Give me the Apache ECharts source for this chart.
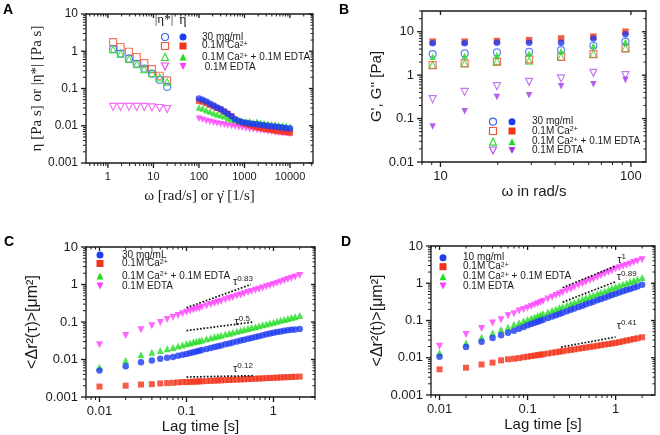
<!DOCTYPE html>
<html>
<head>
<meta charset="utf-8">
<script src="https://cdn.jsdelivr.net/npm/echarts@6/dist/echarts.min.js"></script>
<style>
  html, body { margin: 0; background: #fff; }
  #fig { width: 660px; height: 435px; }
</style>
</head>
<body>
<div id="fig"></div>
<script>
// ---------- A: viscosity ----------
// |eta*| (open symbols) from oscillatory sweep
const aOmega = [1.3, 1.9, 2.9, 4.3, 6.3, 9.3, 13.7, 20];
const aStar30 = [1.15, 0.87, 0.63, 0.46, 0.34, 0.25, 0.17, 0.11];
const aStarCa = [1.75, 1.3, 0.97, 0.7, 0.48, 0.33, 0.22, 0.165];
const aStarCaEdta = [1.12, 0.85, 0.62, 0.45, 0.33, 0.26, 0.2, 0.15];
const aStarEdta = [0.032, 0.032, 0.032, 0.032, 0.032, 0.031, 0.03, 0.028];
// eta (filled symbols) from steady shear
const aRate = [100, 120, 145, 175, 210, 250, 300, 360, 430, 520, 620, 750, 900, 1080, 1300, 1560, 1870, 2250, 2700, 3250, 3900, 4700, 5600, 6800, 8200, 10000];
const aEta30 = [0.054, 0.05, 0.045, 0.039, 0.035, 0.031, 0.028, 0.024, 0.021, 0.018, 0.015, 0.0135, 0.0125, 0.012, 0.0115, 0.0112, 0.011, 0.0106, 0.0103, 0.01, 0.0097, 0.0095, 0.0092, 0.009, 0.0087, 0.0084];
const aEtaCa = [0.046, 0.044, 0.04, 0.036, 0.033, 0.03, 0.027, 0.024, 0.021, 0.018, 0.0145, 0.013, 0.012, 0.011, 0.0103, 0.0097, 0.0091, 0.0087, 0.0083, 0.008, 0.0077, 0.0074, 0.0071, 0.0069, 0.0067, 0.0065];
const aEtaCaEdta = [0.031, 0.029, 0.026, 0.024, 0.022, 0.02, 0.019, 0.018, 0.016, 0.015, 0.0145, 0.014, 0.0135, 0.013, 0.0135, 0.0125, 0.013, 0.012, 0.0118, 0.0115, 0.011, 0.0108, 0.0105, 0.0102, 0.0099, 0.0096];
const aEtaEdta = [0.0155, 0.0145, 0.0135, 0.0128, 0.012, 0.0115, 0.011, 0.0106, 0.0102, 0.0098, 0.0095, 0.0091, 0.0088, 0.0085, 0.0082, 0.008, 0.0077, 0.0075, 0.0072, 0.007, 0.0068, 0.0066, 0.0065, 0.0063, 0.0062, 0.006];

// ---------- B: G', G'' ----------
const bOmega = [9.1, 13.4, 19.8, 29.2, 43, 63.5, 93.6];
const bOpen30 = [3.05, 3.17, 3.34, 3.45, 3.78, 4.75, 5.9];
const bFill30 = [5.4, 5.4, 5.6, 5.6, 5.6, 7.0, 8.8];
const bOpenCa = [1.7, 1.86, 2.03, 2.3, 2.64, 3.05, 4.13];
const bFillCa = [5.9, 5.9, 6.1, 6.4, 7.0, 7.7, 10.0];
const bOpenCaEdta = [1.72, 1.88, 2.12, 2.15, 2.65, 3.1, 4.2];
const bFillCaEdta = [2.64, 2.75, 2.9, 3.17, 3.58, 4.75, 5.9];
const bOpenEdta = [0.279, 0.41, 0.557, 0.7, 0.84, 1.13, 1.0];
const bFillEdta = [0.066, 0.148, 0.315, 0.345, 0.557, 0.62, 0.77];

// ---------- C: MSD, 30 mg/mL ----------
const cLag = [0.01, 0.02, 0.03, 0.04, 0.05, 0.06, 0.07, 0.08, 0.09, 0.1, 0.11, 0.12, 0.13, 0.14, 0.15, 0.17, 0.19, 0.21, 0.23, 0.25, 0.28, 0.31, 0.34, 0.38, 0.42, 0.46, 0.51, 0.56, 0.62, 0.68, 0.75, 0.83, 0.91, 1.0, 1.1, 1.21, 1.33, 1.46, 1.61, 1.77, 2.0];
const cMsd30 = [0.0051, 0.0066, 0.0085, 0.0094, 0.0104, 0.0112, 0.0116, 0.0125, 0.0133, 0.0141, 0.0149, 0.0156, 0.0164, 0.0171, 0.0178, 0.0191, 0.0203, 0.0215, 0.0227, 0.0238, 0.0254, 0.0269, 0.0282, 0.0302, 0.0319, 0.0337, 0.0357, 0.0376, 0.0399, 0.042, 0.0445, 0.047, 0.0497, 0.052, 0.054, 0.056, 0.058, 0.06, 0.062, 0.063, 0.065];
const cMsdCa = [0.0019, 0.002, 0.00215, 0.0022, 0.0023, 0.00235, 0.0024, 0.00245, 0.0025, 0.0025, 0.00253, 0.00256, 0.00258, 0.0026, 0.00263, 0.00266, 0.0027, 0.00273, 0.00276, 0.00278, 0.00282, 0.00285, 0.00288, 0.00292, 0.00295, 0.00298, 0.00301, 0.00304, 0.00308, 0.00311, 0.00315, 0.00318, 0.00322, 0.00325, 0.00329, 0.00332, 0.00336, 0.00339, 0.00343, 0.00346, 0.0035];
const cMsdCaEdta = [0.0062, 0.0094, 0.0134, 0.0156, 0.0174, 0.0193, 0.021, 0.023, 0.0245, 0.0262, 0.0277, 0.0291, 0.0305, 0.0318, 0.0331, 0.0356, 0.038, 0.0402, 0.0424, 0.0445, 0.0475, 0.0504, 0.0531, 0.0567, 0.06, 0.0633, 0.0672, 0.0709, 0.0752, 0.0794, 0.0839, 0.089, 0.0939, 0.099, 0.1046, 0.1108, 0.1172, 0.1238, 0.1312, 0.1386, 0.149];
const cMsdEdta = [0.0246, 0.0436, 0.062, 0.08, 0.097, 0.117, 0.134, 0.15, 0.165, 0.183, 0.196, 0.209, 0.222, 0.234, 0.247, 0.27, 0.294, 0.316, 0.338, 0.36, 0.391, 0.421, 0.451, 0.49, 0.527, 0.564, 0.608, 0.651, 0.702, 0.752, 0.808, 0.871, 0.932, 1.0, 1.079, 1.165, 1.257, 1.353, 1.464, 1.579, 1.74];
// power-law guides
const cGuideX = [0.1, 0.55];
const cGuide083 = [0.24, 1.0];
const cGuideX05 = [0.1, 0.57];
const cGuide05 = [0.059, 0.099];
const cGuideX012 = [0.1, 0.58];
const cGuide012 = [0.0034, 0.0037];

// ---------- D: MSD, 10 mg/ml ----------
const dLag = [0.01, 0.02, 0.03, 0.04, 0.05, 0.06, 0.07, 0.08, 0.09, 0.1, 0.11, 0.12, 0.13, 0.14, 0.15, 0.17, 0.19, 0.21, 0.23, 0.25, 0.28, 0.31, 0.34, 0.38, 0.42, 0.46, 0.51, 0.56, 0.62, 0.68, 0.75, 0.83, 0.91, 1.0, 1.1, 1.21, 1.33, 1.46, 1.61, 1.77, 2.0];
const dMsd10 = [0.0107, 0.0193, 0.0267, 0.034, 0.04, 0.047, 0.053, 0.06, 0.067, 0.074, 0.0802, 0.0864, 0.0925, 0.0985, 0.1044, 0.116, 0.128, 0.139, 0.15, 0.161, 0.178, 0.194, 0.209, 0.23, 0.25, 0.271, 0.296, 0.32, 0.349, 0.378, 0.41, 0.447, 0.484, 0.524, 0.564, 0.609, 0.656, 0.706, 0.763, 0.822, 0.906];
const dMsdCa = [0.0049, 0.0054, 0.0066, 0.0074, 0.0085, 0.0091, 0.0094, 0.0098, 0.0103, 0.0107, 0.0111, 0.0114, 0.0118, 0.0121, 0.0124, 0.013, 0.0136, 0.0141, 0.0146, 0.015, 0.0157, 0.0163, 0.0168, 0.0175, 0.0182, 0.0188, 0.0196, 0.0202, 0.021, 0.0218, 0.0226, 0.0234, 0.0242, 0.0251, 0.0263, 0.0276, 0.029, 0.0303, 0.0319, 0.0334, 0.0355];
const dMsdCaEdta = [0.0137, 0.025, 0.0355, 0.0464, 0.057, 0.0657, 0.0775, 0.087, 0.097, 0.106, 0.115, 0.124, 0.134, 0.142, 0.151, 0.169, 0.187, 0.204, 0.221, 0.237, 0.262, 0.287, 0.311, 0.343, 0.375, 0.406, 0.445, 0.482, 0.528, 0.573, 0.624, 0.682, 0.74, 0.804, 0.868, 0.94, 1.016, 1.096, 1.188, 1.284, 1.419];
const dMsdEdta = [0.0204, 0.042, 0.0606, 0.086, 0.105, 0.134, 0.152, 0.18, 0.198, 0.215, 0.237, 0.26, 0.283, 0.306, 0.329, 0.375, 0.422, 0.468, 0.516, 0.563, 0.634, 0.705, 0.777, 0.874, 0.97, 1.068, 1.19, 1.31, 1.46, 1.61, 1.78, 1.98, 2.18, 2.41, 2.6, 2.82, 3.05, 3.3, 3.58, 3.88, 4.3];
const dGuideX = [0.25, 1.0];
const dGuide1 = [0.76, 2.9];
const dGuide089 = [0.31, 1.1];
const dGuideX041 = [0.24, 1.0];
const dGuide041 = [0.0193, 0.036];

// ---------- styling ----------
const SANS = '"Liberation Sans", Arial, sans-serif';
const SERIF = '"Liberation Serif", "Times New Roman", serif';
const INK = '#1a1a1a';
const BLUE = '#1e3cf2', RED = '#f2331a', GREEN = '#22dc22', MAGENTA = '#ff3dff', PURPLE = '#a23be6';

const ranges = [
  { x: [0.33, 32000], y: [0.001, 10] },
  { x: [8, 120], y: [0.01, 30] },
  { x: [0.007, 3], y: [0.001, 10] },
  { x: [0.008, 2.8], y: [0.001, 10] }
];

function fmt(v) { return String(parseFloat(Number(v).toPrecision(2))); }

function xAx(p, fs, name, nameFont, nameSize, gap) {
  return {
    type: 'log', logBase: 10, gridIndex: p, min: ranges[p].x[0], max: ranges[p].x[1],
    axisLine: { show: false }, axisTick: { show: false }, splitLine: { show: false },
    axisLabel: { color: INK, fontFamily: SANS, fontSize: fs, margin: 8, formatter: fmt,
      showMinLabel: false, showMaxLabel: false },
    name: name, nameLocation: 'middle', nameGap: gap,
    nameTextStyle: { color: INK, fontFamily: nameFont, fontSize: nameSize }
  };
}
function yAx(p, fs, name, nameFont, nameSize, gap, showMax) {
  return {
    type: 'log', logBase: 10, gridIndex: p, min: ranges[p].y[0], max: ranges[p].y[1],
    axisLine: { show: false }, axisTick: { show: false }, splitLine: { show: false },
    axisLabel: { color: INK, fontFamily: SANS, fontSize: fs, margin: 8, formatter: fmt,
      showMinLabel: true, showMaxLabel: showMax },
    name: name, nameLocation: 'middle', nameGap: gap,
    nameTextStyle: { color: INK, fontFamily: nameFont, fontSize: nameSize }
  };
}

// log tick values (1..9 x 10^n) inside a range
function logTicks(lo, hi) {
  const out = [];
  for (let e = -4; e <= 5; e++) {
    for (let k = 1; k <= 9; k++) {
      const v = parseFloat((k * Math.pow(10, e)).toPrecision(3));
      if (v >= lo * 0.999 && v <= hi * 1.001) out.push({ v: v, major: k === 1 });
    }
  }
  return out;
}
// tick marks as thin rect symbols sitting on the frame:
// outward on bottom/left, inward on top/right
function tickSeries(p, topMinor) {
  const xr = ranges[p].x, yr = ranges[p].y, data = [];
  logTicks(xr[0], xr[1]).forEach(t => {
    const L = t.major ? 5 : 3, Li = t.major ? 4 : 2.5, w = t.major ? 1.3 : 1;
    data.push({ value: [t.v, yr[0]], symbolSize: [w, L], symbolOffset: [0, L / 2] });
    if (t.major || topMinor) data.push({ value: [t.v, yr[1]], symbolSize: [w, Li], symbolOffset: [0, Li / 2] });
  });
  logTicks(yr[0], yr[1]).forEach(t => {
    const L = t.major ? 5 : 3, Li = t.major ? 4 : 2.5, w = t.major ? 1.3 : 1;
    data.push({ value: [xr[0], t.v], symbolSize: [L, w], symbolOffset: [-L / 2, 0] });
    data.push({ value: [xr[1], t.v], symbolSize: [Li, w], symbolOffset: [-Li / 2, 0] });
  });
  return {
    type: 'scatter', xAxisIndex: p, yAxisIndex: p, silent: true, clip: false, z: 4,
    symbol: 'rect', itemStyle: { color: INK, opacity: 1 }, data: data
  };
}

function sc(p, xs, ys, symbol, color, open, size) {
  return {
    type: 'scatter', xAxisIndex: p, yAxisIndex: p, silent: true,
    data: xs.map((x, i) => [x, ys[i]]),
    symbol: symbol === 'dtri' ? 'triangle' : symbol,
    symbolRotate: symbol === 'dtri' ? 180 : 0,
    symbolSize: size,
    itemStyle: open ? { color: 'rgba(255,255,255,0)', borderColor: color, borderWidth: 1.2 }
                    : { color: color }
  };
}

const tauRich = {
  t: { fontSize: 11, fontFamily: SANS, color: INK, lineHeight: 14 },
  s: { fontSize: 8, fontFamily: SANS, color: INK, verticalAlign: 'top' }
};
function guide(p, xs, ys, expo, off) {
  return {
    type: 'line', xAxisIndex: p, yAxisIndex: p, silent: true, z: 5,
    symbol: 'circle', symbolSize: 1, itemStyle: { color: 'rgba(0,0,0,0)' },
    lineStyle: { color: '#111', width: 1.7, type: 'dotted' },
    data: [[xs[0], ys[0]], {
      value: [xs[1], ys[1]],
      label: { show: true, position: 'inside', offset: off, formatter: '{t|τ}{s|' + expo + '}', rich: tauRich }
    }]
  };
}

// ---------- legends drawn as graphic ----------
function mark(kind, x, y, color, open, s) {
  const st = open ? { fill: 'none', stroke: color, lineWidth: 1.2 } : { fill: color };
  const h = s / 2;
  if (kind === 'circle') return { type: 'circle', shape: { cx: x, cy: y, r: h }, style: st };
  if (kind === 'rect') return { type: 'rect', shape: { x: x - h, y: y - h, width: s, height: s }, style: st };
  if (kind === 'triangle') return { type: 'polygon', shape: { points: [[x, y - h], [x + h, y + h], [x - h, y + h]] }, style: st };
  return { type: 'polygon', shape: { points: [[x - h, y - h], [x + h, y - h], [x, y + h]] }, style: st };
}
function txt(x, y, text, size, family, extra) {
  return {
    type: 'text', x: x, y: y,
    style: Object.assign({
      text: text, fill: INK, font: size + 'px ' + (family || SANS), verticalAlign: 'middle',
      rich: { s: { fontSize: Math.round(size * 0.7), fontFamily: family || SANS, fill: INK, verticalAlign: 'top' } }
    }, extra || {})
  };
}
const kinds = ['circle', 'rect', 'triangle', 'dtri'];
const legTexts = ['0.1M Ca{s|2+}', '0.1M Ca{s|2+} + 0.1M EDTA', '0.1M EDTA'];

const graphics = [];
// panel letters
[['A', 3, 3], ['B', 339, 3], ['C', 4, 235], ['D', 341, 235]].forEach(l =>
  graphics.push({ type: 'text', x: l[1], y: l[2], style: { text: l[0], fill: '#000', font: 'bold 14px ' + SANS } }));
// A legend
graphics.push(txt(164, 20, '|η*|', 13, SERIF, { textAlign: 'center' }));
graphics.push(txt(183, 20, 'η', 14, SERIF, { textAlign: 'center' }));
const aRows = [37, 46, 57, 66.5];
const aCols = [[BLUE, '#3b64ee'], [RED, '#f0553c'], [GREEN, '#33dd33'], [MAGENTA, '#f04cf0']];
['30 mg/ml'].concat(legTexts.slice(0, 2), [' 0.1M EDTA']).forEach((t, i) => {
  graphics.push(mark(kinds[i], 165, aRows[i], aCols[i][1], true, 7));
  graphics.push(mark(kinds[i], 183, aRows[i], aCols[i][0], false, 7));
  graphics.push(txt(202, aRows[i] + (i === 1 ? -0.5 : 0.5), t, 10));
});
// B legend
const bRows = [121.7, 131, 141.7, 150.5];
const bCols = [[BLUE, '#3b64ee'], [RED, '#f0553c'], [GREEN, '#33dd33'], [PURPLE, '#b257ee']];
['30 mg/ml'].concat(legTexts).forEach((t, i) => {
  graphics.push(mark(kinds[i], 493, bRows[i], bCols[i][1], true, 7));
  graphics.push(mark(kinds[i], 512, bRows[i], bCols[i][0], false, 7));
  graphics.push(txt(532, bRows[i], t, 10));
});
// C legend
const cRows = [255, 263.5, 276, 286];
const cCols = [BLUE, RED, GREEN, MAGENTA];
['30 mg/mL'].concat(legTexts).forEach((t, i) => {
  graphics.push(mark(kinds[i], 100, cRows[i], cCols[i], false, 7));
  graphics.push(txt(122, cRows[i], t, 10));
});
// D legend
const dRows = [257.7, 266.7, 276.7, 286];
['10 mg/ml'].concat(legTexts).forEach((t, i) => {
  graphics.push(mark(kinds[i], 443, dRows[i], cCols[i], false, 7));
  graphics.push(txt(463, dRows[i], t, 10));
});

const gridBase = { show: true, borderColor: INK, borderWidth: 1.3, backgroundColor: 'transparent',
  containLabel: false, outerBoundsMode: 'none' };

const option = {
  animation: false,
  backgroundColor: '#fff',
  grid: [
    Object.assign({ left: 86, top: 14, width: 227, height: 149 }, gridBase),
    Object.assign({ left: 422, top: 11, width: 224, height: 151 }, gridBase),
    Object.assign({ left: 86, top: 247, width: 229, height: 150 }, gridBase),
    Object.assign({ left: 431, top: 246, width: 224, height: 149 }, gridBase)
  ],
  xAxis: [
    xAx(0, 11, 'ω [rad/s] or γ\u0307 [1/s]', SERIF, 15, 26),
    xAx(1, 13, 'ω in rad/s', SANS, 15, 17),
    xAx(2, 13, 'Lag time [s]', SANS, 15, 15),
    xAx(3, 13, 'Lag time [s]', SANS, 15, 17)
  ],
  yAxis: [
    yAx(0, 12, 'η [Pa s] or |η*| [Pa s]', SERIF, 15, 32, true),
    yAx(1, 13, "G', G'' [Pa]", SANS, 15, 25, false),
    yAx(2, 13, '<Δr²(τ)>[μm²]', SANS, 16, 45, true),
    yAx(3, 13, '<Δr²(t)>[μm²]', SANS, 16, 45, true)
  ],
  series: [
    tickSeries(0, true), tickSeries(1, false), tickSeries(2, true), tickSeries(3, true),
    // A
    sc(0, aOmega, aStarEdta, 'dtri', '#f04cf0', true, 7),
    sc(0, aOmega, aStarCa, 'rect', '#f0553c', true, 7),
    sc(0, aOmega, aStar30, 'circle', '#3b64ee', true, 7),
    sc(0, aOmega, aStarCaEdta, 'triangle', '#33dd33', true, 7),
    sc(0, aRate, aEtaEdta, 'dtri', MAGENTA, false, 6.5),
    sc(0, aRate, aEtaCa, 'rect', RED, false, 6),
    sc(0, aRate, aEtaCaEdta, 'triangle', GREEN, false, 6.5),
    sc(0, aRate, aEta30, 'circle', BLUE, false, 6.5),
    // B
    sc(1, bOmega, bOpenEdta, 'dtri', '#b257ee', true, 7),
    sc(1, bOmega, bOpenCaEdta, 'triangle', '#33dd33', true, 7),
    sc(1, bOmega, bOpenCa, 'rect', '#f0553c', true, 7),
    sc(1, bOmega, bOpen30, 'circle', '#3b64ee', true, 7),
    sc(1, bOmega, bFillEdta, 'dtri', PURPLE, false, 6.5),
    sc(1, bOmega, bFillCa, 'rect', RED, false, 6.5),
    sc(1, bOmega, bFill30, 'circle', BLUE, false, 6.5),
    sc(1, bOmega, bFillCaEdta, 'triangle', GREEN, false, 6.5),
    // C
    sc(2, cLag, cMsdEdta, 'dtri', MAGENTA, false, 7),
    sc(2, cLag, cMsdCaEdta, 'triangle', GREEN, false, 7),
    sc(2, cLag, cMsd30, 'circle', BLUE, false, 6.5),
    sc(2, cLag, cMsdCa, 'rect', RED, false, 6),
    guide(2, cGuideX, cGuide083, '0.83', [-8, -3]),
    guide(2, cGuideX05, cGuide05, '0.5', [-10, 0]),
    guide(2, cGuideX012, cGuide012, '0.12', [-10, -7]),
    // D
    sc(3, dLag, dMsdEdta, 'dtri', MAGENTA, false, 7),
    sc(3, dLag, dMsdCaEdta, 'triangle', GREEN, false, 7),
    sc(3, dLag, dMsd10, 'circle', BLUE, false, 6.5),
    sc(3, dLag, dMsdCa, 'rect', RED, false, 6),
    guide(3, dGuideX, dGuide1, '1', [6, -6]),
    guide(3, dGuideX, dGuide089, '0.89', [11, -5]),
    guide(3, dGuideX041, dGuide041, '0.41', [11, -11])
  ],
  graphic: graphics
};

const chart = echarts.init(document.getElementById('fig'), null, { renderer: 'canvas' });
chart.setOption(option);
</script>
</body>
</html>
